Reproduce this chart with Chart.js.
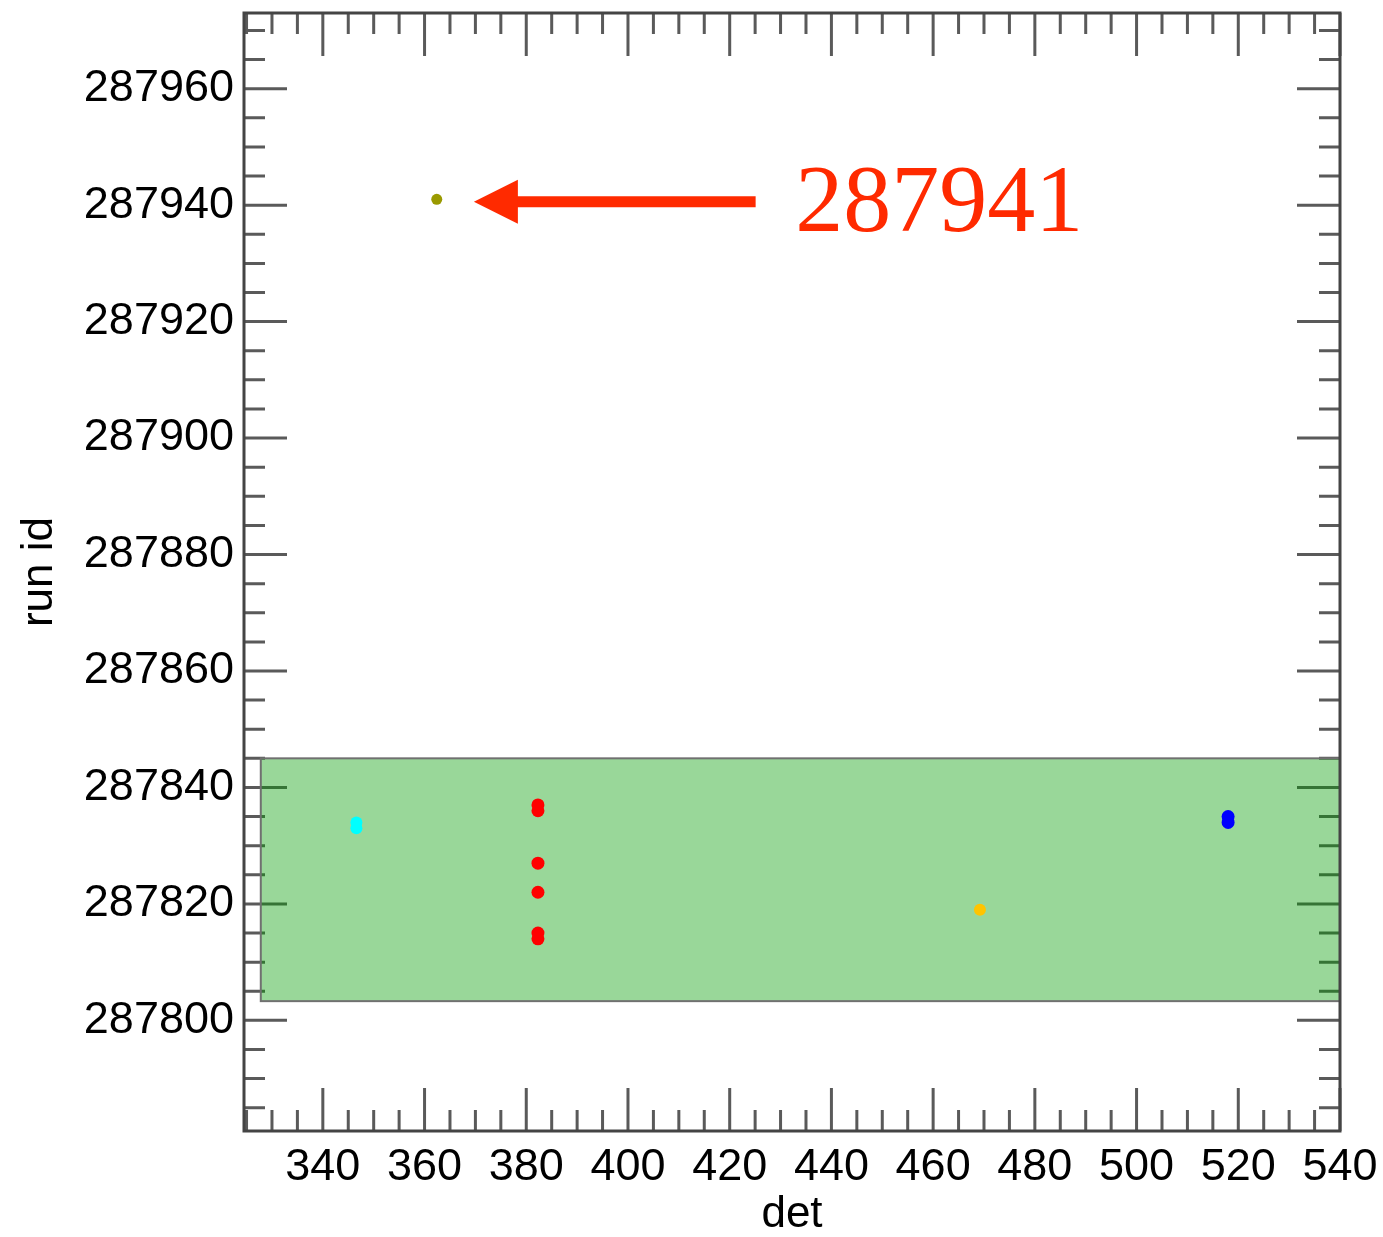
<!DOCTYPE html>
<html>
<head>
<meta charset="utf-8">
<script src="https://cdn.jsdelivr.net/npm/chart.js@4.4.1/dist/chart.umd.min.js"></script>
<style>
  html, body { margin: 0; padding: 0; background: #fff; }
  #wrap { width: 1383px; height: 1237px; }
</style>
</head>
<body>
<div id="wrap"><canvas id="chart" width="1383" height="1237"></canvas></div>
<script>
// axis ranges and ticks
const xRange = [324.5, 540]
const yRange = [287781, 287973]
const xTicks = [340, 360, 380, 400, 420, 440, 460, 480, 500, 520, 540]
const yTicks = [287800, 287820, 287840, 287860, 287880, 287900, 287920, 287940, 287960]
const minorStep = 5

// points per detector group (det, run id)
const cyanDet = [346.6, 346.6]
const cyanRun = [287833, 287834]
const redDet = [382.3, 382.3, 382.3, 382.3, 382.3, 382.3]
const redRun = [287836, 287837, 287827, 287822, 287814, 287815]
const yellowDet = [469.2]
const yellowRun = [287819]
const blueDet = [518, 518]
const blueRun = [287834, 287835]
const oliveDet = [362.4]
const oliveRun = [287941]

// highlighted run range box
const boxDet = [327.8, 540]
const boxRun = [287803.3, 287845]

// annotation
const noteText = "287941"
const arrowTip = [369.7, 287940.6]
const arrowTailDet = 425.1
const notePos = [432.9, 287935.6]

const toPoints = (xs, ys) => xs.map((x, i) => ({ x: x, y: ys[i] }))

const frameTicks = {
  id: "frameTicks",
  beforeDatasetsDraw(chart) {
    const { ctx, chartArea: a, scales: { x, y } } = chart
    ctx.save()
    ctx.strokeStyle = "#5a5a5a"
    ctx.lineWidth = 3
    ctx.beginPath()
    for (let v = Math.ceil(xRange[0] / minorStep) * minorStep; v <= xRange[1]; v += minorStep) {
      const px = x.getPixelForValue(v)
      const len = v % 20 === 0 ? 43 : 21
      ctx.moveTo(px, a.bottom); ctx.lineTo(px, a.bottom - len)
      ctx.moveTo(px, a.top); ctx.lineTo(px, a.top + len)
    }
    for (let v = Math.ceil(yRange[0] / minorStep) * minorStep; v <= yRange[1]; v += minorStep) {
      const py = y.getPixelForValue(v)
      const len = v % 20 === 0 ? 43 : 21
      ctx.moveTo(a.left, py); ctx.lineTo(a.left + len, py)
      ctx.moveTo(a.right, py); ctx.lineTo(a.right - len, py)
    }
    ctx.stroke()

    // green box over the ticks
    const bx0 = x.getPixelForValue(boxDet[0]), bx1 = x.getPixelForValue(boxDet[1])
    const by0 = y.getPixelForValue(boxRun[1]), by1 = y.getPixelForValue(boxRun[0])
    ctx.fillStyle = "rgba(0, 155, 0, 0.4)"
    ctx.fillRect(bx0, by0, bx1 - bx0, by1 - by0)
    ctx.strokeStyle = "#707070"
    ctx.lineWidth = 2
    ctx.strokeRect(bx0, by0, bx1 - bx0, by1 - by0)

    // frame
    ctx.strokeStyle = "#444"
    ctx.lineWidth = 3
    ctx.strokeRect(a.left, a.top, a.right - a.left, a.bottom - a.top)
    ctx.restore()
  },
  afterDraw(chart) {
    const { ctx, scales: { x, y } } = chart
    const tipX = x.getPixelForValue(arrowTip[0])
    const tipY = y.getPixelForValue(arrowTip[1])
    const tailX = x.getPixelForValue(arrowTailDet)
    ctx.save()
    ctx.fillStyle = "#ff2a00"
    ctx.strokeStyle = "#ff2a00"
    ctx.lineWidth = 11
    ctx.beginPath()
    ctx.moveTo(tipX + 40, tipY); ctx.lineTo(tailX, tipY)
    ctx.stroke()
    ctx.beginPath()
    ctx.moveTo(tipX, tipY)
    ctx.lineTo(tipX + 44, tipY - 22)
    ctx.lineTo(tipX + 44, tipY + 22)
    ctx.closePath()
    ctx.fill()
    ctx.font = "96px 'Liberation Serif', 'Times New Roman', serif"
    ctx.textBaseline = "alphabetic"
    ctx.textAlign = "left"
    ctx.fillText(noteText, x.getPixelForValue(notePos[0]), y.getPixelForValue(notePos[1]))
    ctx.restore()
  }
}

const tickFont = { family: "'Liberation Sans', Arial, Helvetica, sans-serif", size: 45 }
const titleFont = { family: "'Liberation Sans', Arial, Helvetica, sans-serif", size: 44, lineHeight: 1.0 }

new Chart(document.getElementById("chart"), {
  type: "scatter",
  data: {
    datasets: [
      { data: toPoints(cyanDet, cyanRun), backgroundColor: "#00ffff", pointRadius: 6 },
      { data: toPoints(redDet, redRun), backgroundColor: "#ff0000", pointRadius: 6.5 },
      { data: toPoints(yellowDet, yellowRun), backgroundColor: "#ffc400", pointRadius: 6 },
      { data: toPoints(blueDet, blueRun), backgroundColor: "#0000ff", pointRadius: 6.5 },
      { data: toPoints(oliveDet, oliveRun), backgroundColor: "#9a9a00", pointRadius: 5.5 }
    ]
  },
  options: {
    responsive: false,
    animation: false,
    devicePixelRatio: 1,
    layout: { padding: { left: 0, top: 13, right: 43, bottom: 0 } },
    elements: { point: { borderWidth: 0 } },
    plugins: { legend: { display: false }, tooltip: { enabled: false } },
    scales: {
      x: {
        type: "linear",
        min: xRange[0],
        max: xRange[1],
        grid: { display: false, drawTicks: false },
        border: { display: false },
        ticks: { font: tickFont, color: "#000", padding: 10, maxRotation: 0, autoSkip: false, callback: v => String(v) },
        title: { display: true, text: "det", font: titleFont, color: "#000", padding: 0 },
        afterBuildTicks: s => { s.ticks = xTicks.map(v => ({ value: v })) },
        afterFit: s => { s.height = 106; s.paddingLeft = 0; s.paddingRight = 0 }
      },
      y: {
        type: "linear",
        min: yRange[0],
        max: yRange[1],
        grid: { display: false, drawTicks: false },
        border: { display: false },
        ticks: { font: tickFont, color: "#000", padding: 10, autoSkip: false, callback: v => String(v) },
        title: { display: true, text: "run id", font: titleFont, color: "#000", padding: { top: 18, bottom: 0 } },
        afterBuildTicks: s => { s.ticks = yTicks.map(v => ({ value: v })) },
        afterFit: s => { s.width = 244; s.paddingTop = 0; s.paddingBottom = 0 }
      }
    }
  },
  plugins: [frameTicks]
})
</script>
</body>
</html>
